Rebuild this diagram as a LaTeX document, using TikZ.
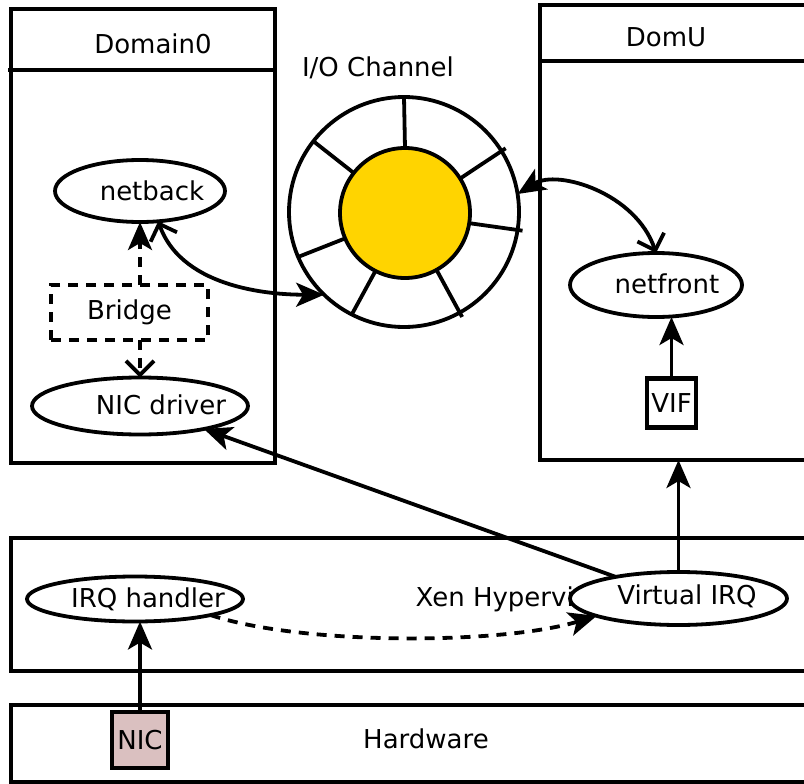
\documentclass[tikz,border=0pt]{standalone}
\usepackage{fontspec}
\setmainfont{DejaVu Sans}
\usetikzlibrary{arrows.meta,shapes.geometric}
\definecolor{ringgold}{RGB}{255,212,0}
\definecolor{nicpink}{RGB}{218,192,192}

\tikzset{
  headf/.tip={Stealth[length=28pt,width=24pt,inset=7pt]},
  heado/.tip={Straight Barb[length=14pt,width=28pt]},
}

\begin{document}
\begin{tikzpicture}[x=1pt,y=-1pt,
  font=\fontsize{26}{31}\selectfont,
  frame/.style={draw,rectangle,line width=4.5pt,inner sep=0pt,outer sep=0pt},
  oval/.style={draw,ellipse,line width=3.8pt,fill=white,inner sep=0pt,outer sep=0pt},
  tag/.style={draw,rectangle,line width=4.5pt,inner sep=0pt,outer sep=0pt},
  lbl/.style={anchor=base,inner sep=0pt},
  link/.style={line width=3.8pt},
  dashlink/.style={line width=3.8pt,dash pattern=on 10pt off 8pt},
]
\useasboundingbox (0,0) rectangle (804,784);
\clip (0,0) rectangle (804,784);

% ---- layer frames ----
\node[frame,minimum width=264pt,minimum height=454pt] (dom0) at (143,236) {};
\draw[line width=4.5pt] (8,70) -- (dom0.east |- 0,70);
\node[lbl] (dom0title) at (153,54) {Domain0};

\node[frame,minimum width=275pt,minimum height=455pt] (domu) at (677.5,232.5) {};
\draw[line width=4.5pt] (domu.west |- 0,61) -- (domu.east |- 0,61);
\node[lbl] (domutitle) at (666,47) {DomU};

\node[frame,minimum width=804pt,minimum height=133pt] (hyp) at (413,604.5) {};
\node[frame,minimum width=804pt,minimum height=77pt] (hw) at (413,743.5) {};
\node[lbl] (hwtitle) at (426,748) {Hardware};

% ---- I/O ring ----
\node[lbl] (ringtitle) at (378,77) {I/O Channel};
\node[circle,draw,fill=white,line width=3.8pt,minimum size=230pt,inner sep=0pt,outer sep=0pt] (ring) at (404,212) {};
\node[circle,draw,fill=ringgold,line width=3.8pt,minimum size=130pt,inner sep=0pt,outer sep=0pt] (hub) at (405,213) {};
\foreach \a in {90,142,-157,-117}
  \draw[link] (hub.\a) -- (ring.\a);
\foreach \a in {32,-9,-61}
  \draw[link,shorten >=-5pt] (hub.\a) -- (ring.\a);

% ---- Domain0 ----
\node[oval,minimum width=170pt,minimum height=62pt] (netback) at (140,191) {};
\node[lbl] (netbacktxt) at (152,200) {netback};
\node[draw,dashlink,minimum width=157pt,minimum height=55pt,inner sep=0pt,outer sep=0pt] (bridge) at (129.5,312.5) {Bridge};
\node[oval,minimum width=216pt,minimum height=57pt] (nicdrv) at (140,406) {};
\node[lbl] (nicdrvtxt) at (161,414) {NIC driver};

% ---- DomU ----
\node[oval,minimum width=172pt,minimum height=64pt] (netfront) at (656,285) {};
\node[lbl] (netfronttxt) at (667,293) {netfront};
\node[tag,fill=white,minimum width=49pt,minimum height=49pt] (vif) at (671.5,403) {VIF};

% ---- hypervisor ----
\node[oval,minimum width=216pt,minimum height=45pt] (irq) at (135,599) {};
\node[lbl] (irqtxt) at (148,607) {IRQ handler};
\node[inner sep=0pt,anchor=base east] (xentxt) at (574,606) {Xen Hypervi};
\node[oval,minimum width=217pt,minimum height=53pt] (virq) at (678.5,598.5) {};
\node[lbl] (virqtxt) at (687,604) {Virtual IRQ};

% ---- hardware ----
\node[tag,fill=nicpink,minimum width=56pt,minimum height=56pt] (nic) at (140,740) {NIC};

% ---- connectors ----
\draw[dashlink,-headf] (netback.south |- bridge.north) -- (netback.south);
\draw[dashlink,-heado] (nicdrv.north |- bridge.south) -- (nicdrv.north);
\draw[link,heado-headf] (netback.-59) .. controls +(25,70) and +(-45,0) .. (ring.-134);
\draw[link,headf-heado] (ring.9) .. controls +(40,-25) and +(-20,-60) .. (netfront.north);
\draw[link,-headf] (vif.north) -- (vif.north |- netfront.south);
\draw[link,-headf] (virq.north) -- (virq.north |- domu.south);
\draw[link,-headf] (virq.161) -- (nicdrv);
\draw[link,-headf] (nic.north) -- (nic.north |- irq.south);
\draw[dashlink,-headf] (irq.-12) .. controls (300,645) and (500,645) .. (virq.192);
\end{tikzpicture}
\end{document}
